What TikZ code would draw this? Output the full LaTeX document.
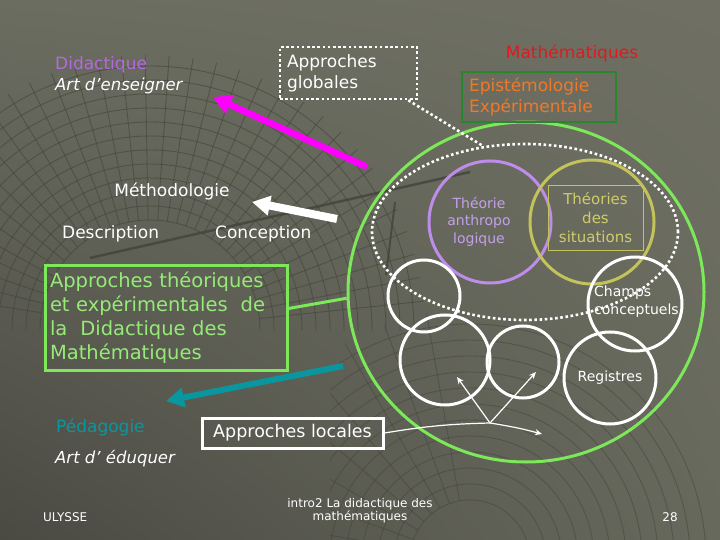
\documentclass[tikz,border=0pt]{standalone}
\usepackage{fontspec}
\setmainfont{DejaVu Sans}
\usetikzlibrary{arrows.meta,shapes.geometric,shadings}
\definecolor{bgUL}{RGB}{108,109,97}
\definecolor{bgUR}{RGB}{111,112,99}
\definecolor{bgLL}{RGB}{74,74,67}
\definecolor{bgLR}{RGB}{104,105,93}
\definecolor{meshc}{RGB}{66,67,58}
\definecolor{lgreen}{RGB}{125,232,90}
\definecolor{tgreen}{RGB}{150,235,120}
\definecolor{dgreen}{RGB}{40,135,45}
\definecolor{orng}{RGB}{240,120,40}
\definecolor{mred}{RGB}{225,25,30}
\definecolor{purp}{RGB}{180,105,220}
\definecolor{lav}{RGB}{195,160,235}
\definecolor{purc}{RGB}{190,140,235}
\definecolor{olv}{RGB}{195,195,90}
\definecolor{olvt}{RGB}{205,205,105}
\definecolor{tealc}{RGB}{10,150,158}
\definecolor{magc}{RGB}{255,0,255}
\tikzset{
  txt/.style={inner sep=0pt, text=white, font=\fontsize{17}{21}\selectfont},
  smalltxt/.style={inner sep=0pt, font=\fontsize{14}{17.5}\selectfont},
  foot/.style={inner sep=0pt, text=white, font=\fontsize{12}{13.5}\selectfont},
  meshline/.style={draw=meshc, line width=0.9pt, opacity=0.6},
  wcirc/.style={circle, draw=white, line width=3pt, inner sep=0pt},
  fatarrow/.style={line width=7pt, -{Triangle[length=18pt,width=19pt]}},
  thinarrow/.style={draw=white, line width=1.2pt, -{Stealth[length=7pt,width=6pt]}},
  dotline/.style={draw=white, line width=2.6pt, dash pattern=on 2.6pt off 2.6pt},
}
\begin{document}
\begin{tikzpicture}[x=1pt,y=-1pt]
\useasboundingbox (0,0) rectangle (720,540);
\shade[upper left=bgUL, upper right=bgUR, lower left=bgLL, lower right=bgLR] (0,0) rectangle (720,540);
% background mesh
\begin{scope}
  \clip (0,0) rectangle (720,330);
  \foreach \r in {110,124,...,270} \draw[meshline] (150,330) circle[radius=\r];
  \foreach \a in {-6,-11,...,-174} \draw[meshline] (150,330) ++(\a:110) -- ++(\a:165);
\end{scope}
\begin{scope}
  \clip (330,300) rectangle (720,540);
  \foreach \r in {60,76,...,240} \draw[meshline, opacity=0.5] (470,560) circle[radius=\r];
  \foreach \a in {-100,-110,...,-200} \draw[meshline, opacity=0.5] (470,560) ++(\a:60) -- ++(\a:190);
\end{scope}
\draw[meshc, line width=2.5pt, opacity=0.8] (90,258) -- (470,172);
\draw[meshc, line width=2pt, opacity=0.8] (395,202) -- (386,275);

% big regions
\node[ellipse, draw=lgreen, line width=3pt, minimum width=356, minimum height=340, inner sep=0pt] (big) at (526,292) {};
\node[ellipse, dotline, minimum width=306, minimum height=176, inner sep=0pt] (dot) at (525,232) {};

% theory circles
\node[circle, draw=purc, line width=3pt, minimum size=122, inner sep=0pt] (anth) at (490,222) {};
\node[smalltxt, text=lav, align=center] (anthtxt) at (479,221.5) {Théorie\\anthropo\\logique};
\node[circle, draw=olv, line width=3pt, minimum size=124, inner sep=0pt] (sitc) at (592,222) {};
\node[text=olvt, draw=olv, line width=0.8pt, minimum width=95, minimum height=65, inner sep=0pt, align=center, font=\fontsize{15}{19}\selectfont] (sit) at (595.5,217.5) {Théories\\des\\situations};

% white circles
\node[wcirc, minimum size=72] (w1) at (424,296) {};
\node[wcirc, minimum size=90] (w2) at (445,360) {};
\node[wcirc, minimum size=72] (w3) at (523,362) {};
\node[wcirc, minimum size=94] (champ) at (635,304) {};
\node[smalltxt, text=white, align=left, anchor=west] (champtxt) at (594,301.5) {Champs\\conceptuels};
\node[wcirc, minimum size=92, smalltxt, text=white] (reg) at (610,378) {Registres};

% boxes
\node[draw=white, dotline, minimum width=137, minimum height=52, text width=123, align=left, txt, inner sep=0pt] (glob) at (348.5,73) {Approches\\globales};
\node[txt, text=mred] (math) at (572,53) {Mathématiques};
\node[draw=dgreen, line width=1.2pt, minimum width=154, minimum height=50, text width=140, align=left, txt, text=orng] (epi) at (539,97) {Epistémologie\\Expérimentale};
\node[draw=lgreen, line width=3pt, minimum width=242, minimum height=105, text width=232, align=left, inner sep=0pt, text=tgreen, font=\fontsize{19.5}{24}\selectfont] (theo) at (166,317.5) {Approches théoriques\\et expérimentales\ \ de\\la\ \ Didactique des\\Mathématiques};
\node[draw=white, line width=3pt, minimum width=181, minimum height=30, txt, font=\fontsize{17.5}{21}\selectfont] (loc) at (292.5,433) {Approches locales};

% left texts
\node[txt, text=purp, anchor=west] (didac) at (55,65) {Didactique};
\node[txt, anchor=west, font=\fontsize{16.5}{21}\selectfont\itshape] (artens) at (55,86) {Art d’enseigner};
\node[txt] (metho) at (172,191) {Méthodologie};
\node[txt, anchor=west] (descr) at (62,234) {Description};
\node[txt, anchor=west] (conc) at (215,234) {Conception};
\node[txt, text=tealc, anchor=west] (peda) at (56,427) {Pédagogie};
\node[txt, anchor=west, font=\fontsize{16.5}{21}\selectfont\itshape] (arteduc) at (55,459) {Art d’ éduquer};

% footer
\node[foot, anchor=west] (ulysse) at (43,517) {ULYSSE};
\node[foot, align=center] (intro) at (360,510.5) {intro2 La didactique des\\mathématiques};
\node[foot] (page) at (670,517) {28};

% connectors
\draw[dotline] ([xshift=-10pt]glob.south east) -- (dot.116);
\draw[draw=lgreen, line width=3pt] ([yshift=9pt]theo.east) -- (big.182);

\coordinate (magtail) at (367,167);
\coordinate (magtip) at (213,97);
\draw[fatarrow, magc, line width=6.5pt] (magtail) -- (magtip);
\coordinate (wtail) at (337,219);
\coordinate (wtip) at (252,202);
\draw[fatarrow, white, line width=8pt] (wtail) -- (wtip);
\coordinate (ttail) at (343,366);
\coordinate (ttip) at (166,401);
\draw[fatarrow, tealc, line width=6pt] (ttail) -- (ttip);

\coordinate (hub) at (490,423);
\coordinate (a1) at (457,377);
\coordinate (a2) at (536,372);
\coordinate (a3) at (542,434);
\draw[white, line width=1.2pt] (loc.east) to[bend left=4] (hub);
\draw[thinarrow] (hub) -- (a1);
\draw[thinarrow] (hub) -- (a2);
\draw[thinarrow] (hub) to[bend left=3] (a3);
\end{tikzpicture}
\end{document}
